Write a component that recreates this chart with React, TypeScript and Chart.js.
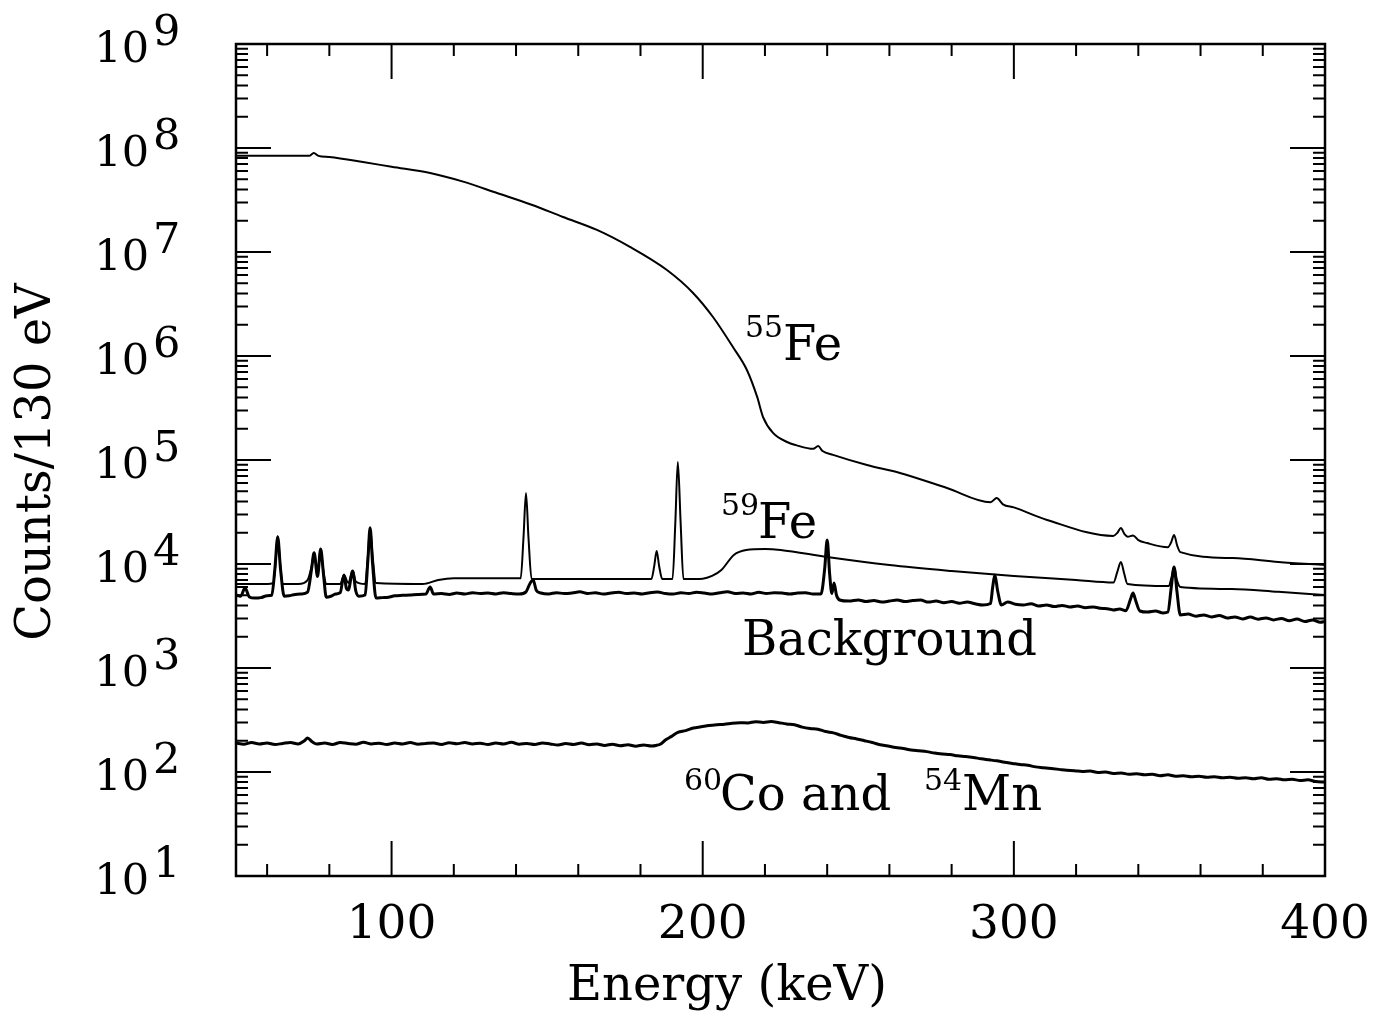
import React, { useEffect, useRef } from "react";
import { Chart, registerables } from "chart.js";

Chart.register(...registerables);

const FONT = '"DejaVu Serif", serif';

// ---- 55Fe source spectrum ----
const fe55Energy = [50, 60, 70, 73.5, 75, 76.5, 80, 90.8, 100, 112.4, 123, 133.9, 145, 155.1, 166, 176.6, 188.5, 196.9, 203.3, 209.7, 214.2, 217.5, 219.4, 222.6, 227.1, 230, 235.5, 237.1, 238.5, 241.9, 252.8, 263.4, 278.5, 292.5, 294.5, 296.5, 300, 310.7, 331.9, 333.3, 334.4, 335.5, 336.6, 338.3, 340, 342.8, 349.5, 350.5, 351.5, 352.5, 353.5, 370.4, 385, 400];
const fe55Counts = [8.4e7, 8.4e7, 8.4e7, 8.4e7, 8.95e7, 8.4e7, 8.18e7, 7.33e7, 6.6e7, 5.75e7, 4.75e7, 3.69e7, 2.85e7, 2.17e7, 1.63e7, 1.12e7, 6.71e6, 4.04e6, 2.37e6, 1.22e6, 7.33e5, 4.04e5, 2.59e5, 1.82e5, 1.49e5, 1.39e5, 1.28e5, 1.36e5, 1.22e5, 1.12e5, 8.95e4, 7.5e4, 5.38e4, 3.93e4, 4.3e4, 3.75e4, 3.5e4, 2.65e4, 1.86e4, 2.0e4, 2.22e4, 1.95e4, 1.83e4, 1.88e4, 1.7e4, 1.59e4, 1.45e4, 1.6e4, 1.9e4, 1.5e4, 1.3e4, 1.14e4, 1.045e4, 9.77e3];

// ---- 59Fe source spectrum ----
const fe59Energy = [50, 55, 60, 62, 62.8, 63.4, 64.1, 65, 70, 73, 74.3, 75.1, 76.2, 77.2, 78, 79, 83.5, 84.7, 86.1, 87.5, 88.5, 91.5, 92.4, 93.1, 93.9, 95, 110, 115, 120, 141.5, 142.4, 143.2, 144, 145, 183.5, 184.4, 185.2, 186, 187, 190.3, 191.2, 192, 192.9, 193.8, 200, 203, 206, 210, 214, 220, 225, 240, 260, 280, 300, 320, 332, 333.3, 334.4, 335.5, 336.5, 349.8, 350.7, 351.5, 352.4, 353.5, 370, 385, 400];
const fe59Counts = [6427, 6427, 6427, 6561, 11000, 18580, 11000, 6427, 6427, 7015, 9500, 12850, 8185, 13930, 9000, 6427, 6427, 7834, 6561, 8570, 6800, 6427, 12000, 22340, 12000, 6561, 6427, 7015, 7278, 7278, 18000, 48190, 18000, 7178, 7178, 9500, 13340, 9500, 7178, 7178, 25000, 95720, 25000, 7178, 7230, 7674, 8750, 12220, 13650, 13930, 13650, 11670, 9772, 8570, 7674, 7015, 6637, 8500, 10450, 8000, 6427, 6138, 7500, 9354, 7000, 6012, 5754, 5400, 5035];

// ---- Background spectrum ----
const bgEnergy = [50, 51.5, 52.9, 54.3, 56, 58, 60, 61.5, 62.5, 63.4, 64.3, 65.5, 67, 69, 71, 73, 74.3, 75.1, 76.2, 77.2, 78.2, 79, 80.5, 82, 83.5, 84.7, 85.5, 86.1, 87.5, 88.5, 89.5, 91.5, 92.4, 93.1, 93.9, 95, 97, 99, 101, 103.5, 106, 108.5, 111, 112.4, 113.5, 116, 118.5, 121, 123.5, 126, 128.5, 131, 133.5, 136, 138.5, 141, 143.2, 144.5, 145.5, 146.5, 148, 150.5, 153, 155.5, 158, 160.5, 163, 165.5, 168, 170.5, 173, 175.5, 178, 180.5, 183, 185.5, 188, 190.5, 193, 195.5, 198, 200.5, 203, 205.5, 208, 210.5, 213, 215.5, 218, 220.5, 223, 225.5, 228, 230.5, 233, 235.5, 238, 239.2, 240, 240.8, 241.5, 242.2, 243, 244, 247, 250, 252.5, 255, 257.5, 260, 262.5, 265, 267.5, 270, 272.5, 275, 277.5, 280, 282.5, 285, 287.5, 290, 292.5, 293.2, 293.9, 294.8, 296, 298, 300.5, 303, 305.5, 308, 310.5, 313, 315.5, 318, 320.5, 323, 325.5, 328, 330.5, 332, 334, 336, 337.5, 338.3, 339.2, 340.5, 343, 345.5, 348, 349.5, 350.6, 351.5, 352.4, 353.5, 356, 358.5, 361, 363.5, 366, 368.5, 371, 373.5, 376, 378.5, 381, 383.5, 386, 388.5, 391, 393.5, 396, 398.5, 400];
const bgCounts = [5035, 4900, 5875, 4820, 4700, 4750, 4950, 5000, 9000, 18200, 9000, 4900, 4950, 5100, 5150, 5370, 9000, 12850, 7586, 13930, 7500, 4800, 4900, 5140, 5300, 7834, 5800, 5623, 8570, 5500, 4900, 5035, 11000, 22340, 10000, 4700, 4750, 4800, 4950, 5000, 5035, 5100, 5140, 6026, 5140, 5200, 5100, 5260, 5140, 5300, 5200, 5260, 5150, 5300, 5200, 5140, 5400, 6500, 7015, 5600, 5260, 5150, 5300, 5200, 5260, 5400, 5200, 5300, 5140, 5260, 5350, 5200, 5260, 5150, 5300, 5370, 5200, 5140, 5300, 5200, 5350, 5260, 5150, 5300, 5400, 5200, 5260, 5150, 5350, 5200, 5300, 5260, 5150, 5260, 5300, 5140, 5140, 9000, 17020, 8000, 5200, 6561, 5000, 4508, 4400, 4508, 4350, 4450, 4315, 4400, 4508, 4350, 4450, 4508, 4300, 4400, 4250, 4350, 4200, 4300, 4150, 4036, 4169, 6000, 7834, 5500, 4036, 4315, 4100, 4036, 4150, 3950, 4036, 3900, 4000, 3864, 3950, 3800, 3864, 3750, 3700, 3614, 3700, 3560, 4600, 5260, 4400, 3532, 3450, 3530, 3381, 3450, 6000, 9354, 5500, 3236, 3300, 3150, 3236, 3100, 3200, 3027, 3100, 2960, 3090, 2950, 3027, 2900, 3000, 2850, 2958, 2800, 2900, 2750, 2800];

// ---- 60Co and 54Mn spectrum ----
const coEnergy = [50, 52.5, 55, 57.5, 60, 62.5, 65, 67.5, 70, 72, 73, 74.5, 76, 78.5, 81, 83.5, 86, 88.5, 91, 93.5, 96, 98.5, 101, 103.5, 106, 108.5, 111, 113.5, 116, 118.5, 121, 123.5, 126, 128.5, 131, 133.5, 136, 138.5, 141, 143.5, 146, 148.5, 151, 153.5, 156, 158.5, 161, 163.5, 166, 168.5, 171, 173.5, 176, 178.5, 181, 183.5, 185, 186.5, 188, 190, 192, 194.5, 197, 199.5, 202, 204.5, 207, 209.5, 212, 214.5, 217, 219.5, 222, 224.5, 227, 229.5, 232, 234.5, 237, 239.5, 242, 244.5, 247, 249.5, 252, 254.5, 257, 259.5, 262, 264.5, 267, 269.5, 272, 274.5, 277, 279.5, 282, 284.5, 287, 289.5, 292, 294.5, 297, 299.5, 302, 304.5, 307, 309.5, 312, 314.5, 317, 319.5, 322, 324.5, 327, 329.5, 332, 334.5, 337, 339.5, 342, 344.5, 347, 349.5, 352, 354.5, 357, 359.5, 362, 364.5, 367, 369.5, 372, 374.5, 377, 379.5, 382, 384.5, 387, 389.5, 392, 394.5, 397, 400];
const coCounts = [190, 185, 192, 186, 190, 184, 188, 192, 186, 200, 212, 195, 186, 190, 184, 192, 188, 185, 193, 186, 189, 184, 190, 186, 192, 185, 188, 190, 184, 191, 187, 192, 186, 189, 184, 190, 186, 193, 185, 188, 184, 190, 186, 182, 188, 184, 190, 183, 186, 180, 185, 179, 183, 177, 182, 178, 180, 186, 203, 220, 240, 250, 265, 272, 280, 285, 288, 295, 298, 296, 305, 300, 306, 298, 290, 285, 270, 262, 258, 245, 238, 225, 215, 208, 200, 192, 183, 178, 172, 168, 163, 160, 157, 152, 149, 147, 143, 141, 138, 134, 131, 128, 124, 121, 118, 116, 112, 110, 108, 106, 104, 103, 101, 102, 99, 100, 97, 98, 95, 96, 94, 95, 92, 94, 91, 92, 90, 91, 89, 90, 88, 89, 87, 88, 86, 88, 85, 86, 84, 85, 83, 84, 81, 80];

// ---- axes ----
const xMin = 50;
const xMax = 400;
const xMajorTicks = [100, 200, 300, 400];
const xMinorTicks = [60, 80, 120, 140, 160, 180, 220, 240, 260, 280, 320, 340, 360, 380];
const xTickLabels = ["100", "200", "300", "400"];
const yExponents = [1, 2, 3, 4, 5, 6, 7, 8, 9];
const yMin = 10;
const yMax = 1e9;
const xTitle = "Energy (keV)";
const yTitle = "Counts/130 eV";

function pts(e: number[], c: number[]) {
  return e.map((x, i) => ({ x, y: c[i] }));
}

const framePlugin = {
  id: "frame",
  afterDraw(chart: any) {
    const { ctx, chartArea: a, scales } = chart;
    const xs = scales.x;
    const ys = scales.y;
    ctx.save();
    ctx.strokeStyle = "#000";
    ctx.fillStyle = "#000";
    ctx.lineWidth = 2.5;
    ctx.strokeRect(a.left, a.top, a.right - a.left, a.bottom - a.top);

    ctx.lineWidth = 2;
    const vline = (px: number, len: number) => {
      ctx.beginPath();
      ctx.moveTo(px, a.bottom);
      ctx.lineTo(px, a.bottom - len);
      ctx.moveTo(px, a.top);
      ctx.lineTo(px, a.top + len);
      ctx.stroke();
    };
    const hline = (py: number, len: number) => {
      ctx.beginPath();
      ctx.moveTo(a.left, py);
      ctx.lineTo(a.left + len, py);
      ctx.moveTo(a.right, py);
      ctx.lineTo(a.right - len, py);
      ctx.stroke();
    };
    xMinorTicks.forEach((v) => vline(xs.getPixelForValue(v), 12));
    xMajorTicks.forEach((v) => vline(xs.getPixelForValue(v), 35));
    yExponents.forEach((e) => {
      const base = Math.pow(10, e);
      hline(ys.getPixelForValue(base), 35);
      if (e < 9) {
        for (let m = 2; m <= 9; m++) hline(ys.getPixelForValue(base * m), 12);
      }
    });

    // tick labels
    ctx.textBaseline = "alphabetic";
    ctx.font = `47px ${FONT}`;
    ctx.textAlign = "center";
    xMajorTicks.forEach((v, i) => {
      ctx.fillText(xTickLabels[i], xs.getPixelForValue(v), a.bottom + 62);
    });
    ctx.font = `43px ${FONT}`;
    yExponents.forEach((e) => {
      const py = ys.getPixelForValue(Math.pow(10, e));
      ctx.textAlign = "right";
      ctx.fillText("10", a.left - 87, py + 18);
      ctx.textAlign = "left";
      ctx.fillText(String(e), a.left - 83, py + 1);
    });

    // axis titles
    ctx.font = `48px ${FONT}`;
    ctx.textAlign = "center";
    ctx.fillText(xTitle, 727, 1000);
    ctx.save();
    ctx.translate(50, 462);
    ctx.rotate(-Math.PI / 2);
    ctx.fillText(yTitle, 0, 0);
    ctx.restore();

    // annotations
    const sup = (t: string, x: number, y: number) => {
      ctx.font = `30px ${FONT}`;
      ctx.textAlign = "left";
      ctx.fillText(t, x, y);
    };
    const big = (t: string, x: number, y: number) => {
      ctx.font = `48px ${FONT}`;
      ctx.textAlign = "left";
      ctx.fillText(t, x, y);
    };
    sup("55", 745, 337);
    big("Fe", 783, 360);
    sup("59", 721, 515);
    big("Fe", 758, 538);
    big("Background", 742, 655);
    sup("60", 684, 790);
    big("Co and", 720, 810);
    sup("54", 924, 790);
    big("Mn", 962, 810);
    ctx.restore();
  },
};

export default function App() {
  const ref = useRef<HTMLCanvasElement | null>(null);
  useEffect(() => {
    document.body.style.margin = "0";
    const canvas = ref.current;
    if (!canvas) return;
    const ds = (label: string, e: number[], c: number[], w: number) => ({
      label,
      data: pts(e, c),
      borderColor: "#000",
      backgroundColor: "#000",
      borderWidth: w,
      pointRadius: 0,
      fill: false,
      cubicInterpolationMode: "monotone" as const,
    });
    const chart = new Chart(canvas, {
      type: "line",
      data: {
        datasets: [
          ds("55Fe", fe55Energy, fe55Counts, 2),
          ds("59Fe", fe59Energy, fe59Counts, 2),
          ds("Background", bgEnergy, bgCounts, 3),
          ds("60Co and 54Mn", coEnergy, coCounts, 3),
        ],
      },
      options: {
        animation: false,
        responsive: false,
        maintainAspectRatio: false,
        layout: { padding: { left: 236, right: 57, top: 44, bottom: 143 } },
        plugins: { legend: { display: false }, tooltip: { enabled: false } },
        scales: {
          x: { type: "linear", min: xMin, max: xMax, display: false },
          y: { type: "logarithmic", min: yMin, max: yMax, display: false },
        },
      },
      plugins: [framePlugin],
    });
    return () => chart.destroy();
  }, []);
  return (
    <div style={{ width: 1382, height: 1019, background: "#fff" }}>
      <canvas ref={ref} width={1382} height={1019} />
    </div>
  );
}
